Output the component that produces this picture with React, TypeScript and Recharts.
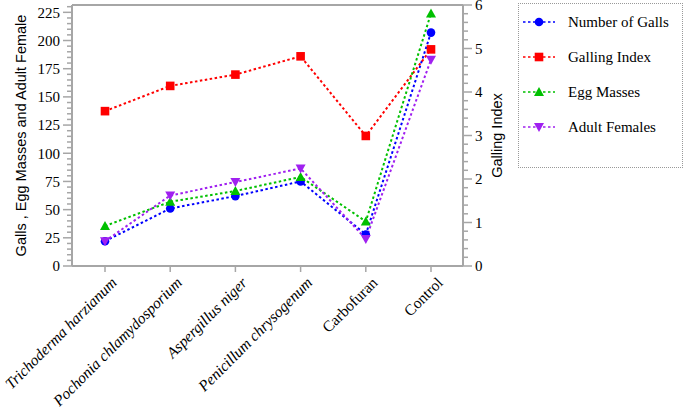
import { LineChart, Line, XAxis, YAxis, ReferenceLine, Label } from "recharts";

// ---------------------------------------------------------------------------
// Data
// ---------------------------------------------------------------------------

const CATEGORIES = [
  "Trichoderma harzianum",
  "Pochonia chlamydosporium",
  "Aspergillus niger",
  "Penicillum chrysogenum",
  "Carbofuran",
  "Control",
];
const ITALIC = [true, true, true, true, false, false];

const GALLS = [22, 51, 62, 75, 28, 207];
const GALLING_INDEX = [3.56, 4.14, 4.4, 4.82, 2.99, 4.98];
const EGG_MASSES = [35.5, 57, 66.5, 79, 39.5, 224];
const ADULT_FEMALES = [22, 62.5, 74.5, 86.5, 24, 183];

const LEFT_MAJOR = [0, 25, 50, 75, 100, 125, 150, 175, 200, 225];
const RIGHT_MAJOR = [0, 1, 2, 3, 4, 5, 6];

// minor ticks: every 5 on the left, every 0.2 on the right
const LEFT_TICKS = Array.from({ length: 47 }, (_, i) => i * 5);
const RIGHT_TICKS = Array.from({ length: 31 }, (_, i) => Math.round(i * 2) / 10);

const AXIS = "#a6a6a6";
const SERIF = "'Liberation Serif', 'Times New Roman', serif";
const SANS = "'Liberation Sans', Arial, sans-serif";

const SERIES = [
  { key: "galls", name: "Number of Galls", color: "#0000ff", shape: "circle", axis: "left" },
  { key: "index", name: "Galling Index", color: "#ff0000", shape: "square", axis: "right" },
  { key: "eggs", name: "Egg Masses", color: "#00c000", shape: "up", axis: "left" },
  { key: "females", name: "Adult Females", color: "#a020f0", shape: "down", axis: "left" },
];

const chartData = CATEGORIES.map((name, i) => ({
  name,
  galls: GALLS[i],
  index: GALLING_INDEX[i],
  eggs: EGG_MASSES[i],
  females: ADULT_FEMALES[i],
}));

// ---------------------------------------------------------------------------
// Marks
// ---------------------------------------------------------------------------

function Marker({ cx, cy, shape, color }: { cx: number; cy: number; shape: string; color: string }) {
  if (shape === "circle") return <circle cx={cx} cy={cy} r={4.3} fill={color} />;
  if (shape === "square")
    return <rect x={cx - 4.3} y={cy - 4.3} width={8.6} height={8.6} fill={color} />;
  if (shape === "up")
    return <polygon points={`${cx},${cy - 5} ${cx + 5},${cy + 4} ${cx - 5},${cy + 4}`} fill={color} />;
  return <polygon points={`${cx},${cy + 5} ${cx + 5},${cy - 4} ${cx - 5},${cy - 4}`} fill={color} />;
}

function LeftTick({ x, y, payload }: any) {
  const major = LEFT_MAJOR.includes(payload.value);
  return (
    <g>
      <line x1={x} x2={x - (major ? 9 : 5)} y1={y} y2={y} stroke={AXIS} strokeWidth={1.5} />
      {major && (
        <text x={x - 12} y={y} dy="0.35em" textAnchor="end" fontFamily={SERIF} fontSize={15} fill="#000">
          {payload.value}
        </text>
      )}
    </g>
  );
}

function RightTick({ x, y, payload }: any) {
  const major = RIGHT_MAJOR.includes(payload.value);
  return (
    <g>
      <line x1={x} x2={x + (major ? 9 : 5)} y1={y} y2={y} stroke={AXIS} strokeWidth={1.5} />
      {major && (
        <text x={x + 12} y={y} dy="0.35em" textAnchor="start" fontFamily={SERIF} fontSize={15} fill="#000">
          {payload.value}
        </text>
      )}
    </g>
  );
}

function CategoryTick({ x, y, payload, index }: any) {
  return (
    <text
      transform={`translate(${x + 5},${y + 2}) rotate(-45)`}
      textAnchor="end"
      dy="0.7em"
      fontFamily={SERIF}
      fontSize={15.5}
      fontStyle={ITALIC[index] ? "italic" : "normal"}
      fill="#000"
    >
      {payload.value}
    </text>
  );
}

function LegendBox() {
  return (
    <div
      style={{
        position: "absolute",
        left: 518,
        top: 3,
        width: 165,
        height: 165,
        border: "1px dotted #999",
        boxSizing: "border-box",
      }}
    >
      {SERIES.map((s, i) => (
        <div
          key={s.key}
          style={{ position: "absolute", left: 0, top: 8 + i * 35, height: 20, display: "flex", alignItems: "center" }}
        >
          <svg width={40} height={20} style={{ marginLeft: 3 }}>
            <line x1={1} x2={33} y1={10} y2={10} stroke={s.color} strokeWidth={1.5} strokeDasharray="2.5 2.5" />
            <Marker cx={17} cy={10} shape={s.shape} color={s.color} />
          </svg>
          <span style={{ marginLeft: 6, fontFamily: SERIF, fontSize: 15, color: "#000", whiteSpace: "nowrap" }}>
            {s.name}
          </span>
        </div>
      ))}
    </div>
  );
}

// ---------------------------------------------------------------------------
// Component
// ---------------------------------------------------------------------------

export default function App() {
  return (
    <div style={{ position: "absolute", left: 0, top: 0, width: 685, height: 410, background: "#fff" }}>
      <LineChart width={685} height={410} data={chartData} margin={{ top: 5, right: 0, bottom: 0, left: 0 }}>
        <XAxis
          dataKey="name"
          height={144}
          interval={0}
          padding={{ left: 33, right: 32 }}
          tick={<CategoryTick />}
          tickSize={6}
          tickMargin={2}
          tickLine={{ stroke: AXIS, strokeWidth: 1.5 }}
          axisLine={{ stroke: AXIS, strokeWidth: 2 }}
        />
        <YAxis
          yAxisId="left"
          width={72}
          domain={[0, 231.5]}
          ticks={LEFT_TICKS}
          interval={0}
          tickSize={0}
          tickMargin={0}
          tickLine={false}
          tick={<LeftTick />}
          axisLine={{ stroke: AXIS, strokeWidth: 2 }}
        >
          <Label
            content={({ viewBox }: any) => (
              <text
                transform={`translate(${viewBox.x + 21},${viewBox.y + viewBox.height / 2}) rotate(-90)`}
                textAnchor="middle"
                dy="0.35em"
                fontFamily={SANS}
                fontSize={14.5}
                fill="#000"
              >
                Galls , Egg Masses and Adult Female
              </text>
            )}
          />
        </YAxis>
        <YAxis
          yAxisId="right"
          orientation="right"
          width={222}
          domain={[0, 6]}
          ticks={RIGHT_TICKS}
          interval={0}
          tickSize={0}
          tickMargin={0}
          tickLine={false}
          tick={<RightTick />}
          axisLine={{ stroke: AXIS, strokeWidth: 2 }}
        >
          <Label
            content={({ viewBox }: any) => (
              <text
                transform={`translate(${viewBox.x + 34},${viewBox.y + viewBox.height / 2}) rotate(-90)`}
                textAnchor="middle"
                dy="0.35em"
                fontFamily={SANS}
                fontSize={14.5}
                fill="#000"
              >
                Galling Index
              </text>
            )}
          />
        </YAxis>
        <ReferenceLine yAxisId="right" y={6} stroke={AXIS} strokeWidth={2} />
        {SERIES.map((s) => (
          <Line
            key={s.key}
            yAxisId={s.axis}
            dataKey={s.key}
            name={s.name}
            type="linear"
            stroke={s.color}
            strokeWidth={2}
            strokeDasharray="2.5 2.5"
            isAnimationActive={false}
            dot={(p: any) => <Marker key={`${s.key}-${p.index}`} cx={p.cx} cy={p.cy} shape={s.shape} color={s.color} />}
            activeDot={false}
          />
        ))}
      </LineChart>
      <LegendBox />
    </div>
  );
}
